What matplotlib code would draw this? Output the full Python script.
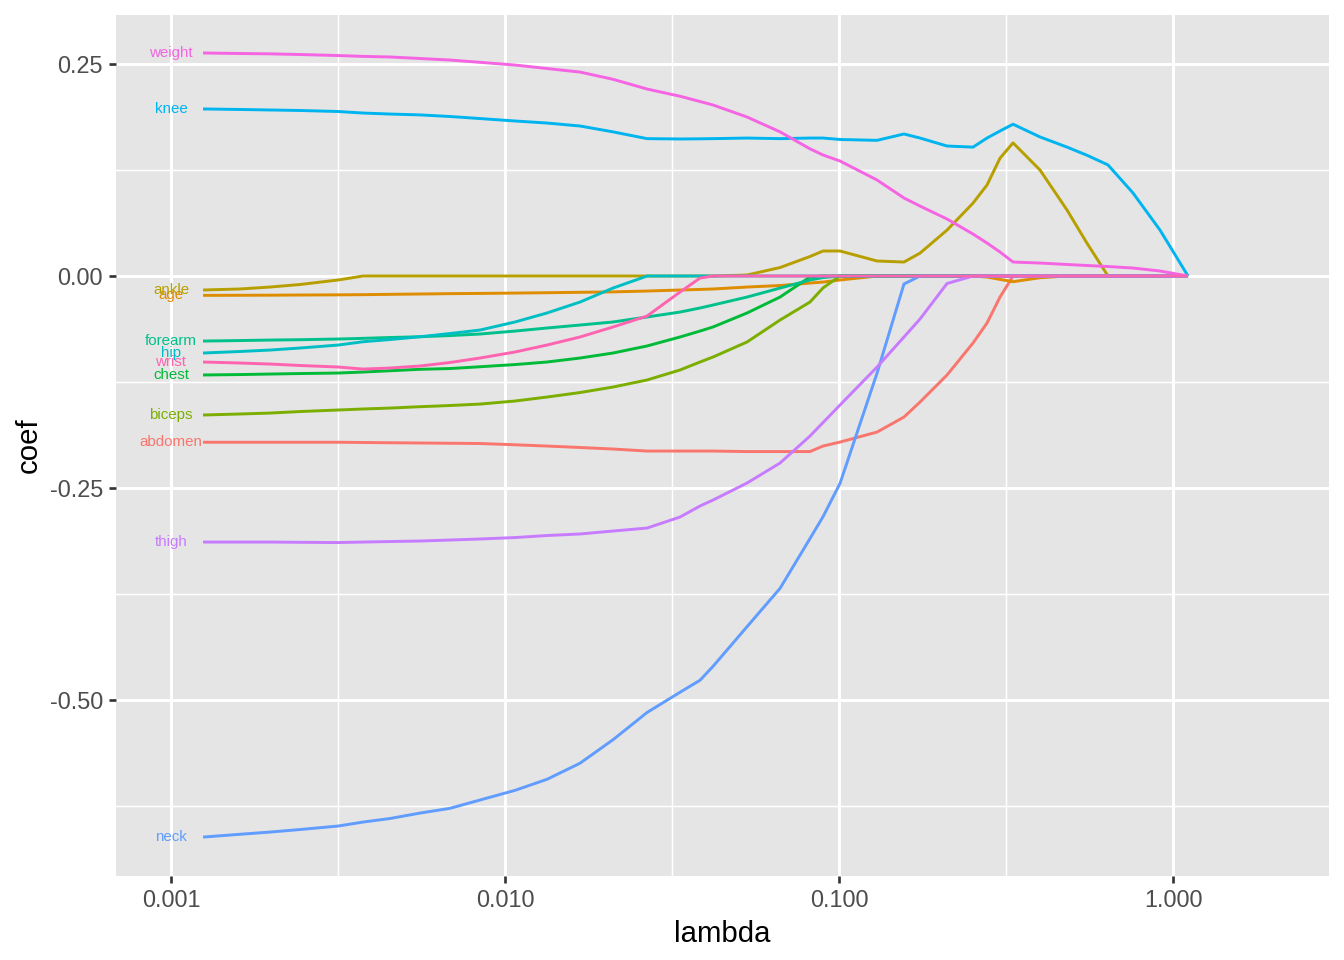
import numpy as np
import matplotlib
matplotlib.use('Agg')
import matplotlib.pyplot as plt
from matplotlib.ticker import FixedLocator, FormatStrFormatter

plt.rcParams['font.family'] = ['Liberation Sans', 'DejaVu Sans']
plt.rcParams['axes.unicode_minus'] = False

# lambda grid
lam = [0.001247, 0.001609, 0.001978, 0.002434, 0.003162, 0.003757, 0.004526,
       0.005566, 0.006843, 0.008416, 0.010713, 0.013354, 0.016770, 0.021054,
       0.026622, 0.033420, 0.038350, 0.041950, 0.053040, 0.066590, 0.081860,
       0.089570, 0.100700, 0.130000, 0.156500, 0.174800, 0.210600, 0.251900,
       0.277400, 0.303400, 0.331900, 0.399700, 0.481600, 0.552800, 0.638800,
       0.759000, 0.914200, 1.109000]

abdomen = [-0.196, -0.196, -0.196, -0.196, -0.196, -0.1963, -0.1966, -0.1969,
           -0.1972, -0.1975, -0.199, -0.2005, -0.2022, -0.204, -0.2064, -0.2064,
           -0.2064, -0.2064, -0.207, -0.207, -0.207, -0.2005, -0.1958, -0.184,
           -0.1663, -0.1486, -0.1167, -0.079, -0.0554, -0.0248] + [0] * 8
age = [-0.0228, -0.0227, -0.0226, -0.0224, -0.0222, -0.022, -0.0216, -0.0212,
       -0.0208, -0.0205, -0.0201, -0.0197, -0.0192, -0.0187, -0.0177, -0.0165,
       -0.0158, -0.0153, -0.013, -0.0112, -0.0083, -0.0071, -0.0047, 0, 0, 0,
       0, 0, -0.0012, -0.004, -0.0067, -0.002, 0, 0, 0, 0, 0, 0]
ankle = [-0.0165, -0.0153, -0.013, -0.010, -0.0047] + [0] * 13 + \
        [0.0012, 0.010, 0.023, 0.0295, 0.0295, 0.0177, 0.0165, 0.027, 0.0542,
         0.086, 0.1073, 0.139, 0.157, 0.125, 0.0778, 0.0386, 0, 0, 0, 0]
biceps = [-0.1639, -0.1627, -0.1616, -0.1598, -0.158, -0.1568, -0.1557,
          -0.1541, -0.1527, -0.151, -0.1474, -0.1427, -0.1374, -0.1309,
          -0.1226, -0.1108, -0.1014, -0.0955, -0.0778, -0.0519, -0.0307,
          -0.014, 0] + [0] * 15
chest = [-0.1167, -0.1162, -0.1156, -0.115, -0.1144, -0.1132, -0.1117, -0.110,
         -0.1091, -0.107, -0.1044, -0.1014, -0.0967, -0.0908, -0.0825, -0.0719,
         -0.0649, -0.0601, -0.0436, -0.0248, -0.0012, 0, 0] + [0] * 15
forearm = [-0.0767, -0.0761, -0.0755, -0.0751, -0.0743, -0.0735, -0.0725,
           -0.0716, -0.0702, -0.0684, -0.0649, -0.0613, -0.0578, -0.0542,
           -0.0483, -0.0425, -0.0377, -0.0342, -0.0248, -0.0142, -0.0047,
           -0.0018, 0] + [0] * 15
hip = [-0.0908, -0.089, -0.0873, -0.0849, -0.0814, -0.0775, -0.0749, -0.0716,
       -0.0678, -0.0637, -0.0542, -0.0436, -0.0307, -0.0142, 0] + [0] * 23
knee = [0.197, 0.1964, 0.1958, 0.1952, 0.194, 0.1922, 0.191, 0.190, 0.1881,
        0.1857, 0.1828, 0.1804, 0.1769, 0.170, 0.162, 0.1616, 0.1618, 0.162,
        0.1627, 0.162, 0.1627, 0.1627, 0.161, 0.160, 0.1675, 0.1627, 0.1533,
        0.152, 0.1627, 0.171, 0.179, 0.164, 0.152, 0.1424, 0.131, 0.0979,
        0.0542, 0.0]
neck = [-0.6616, -0.6583, -0.6557, -0.6527, -0.6486, -0.6439, -0.6397, -0.6333,
        -0.6277, -0.6179, -0.6065, -0.5935, -0.5745, -0.5468, -0.5147, -0.4908,
        -0.4767, -0.4603, -0.4135, -0.3683, -0.3096, -0.2838, -0.2445, -0.1144,
        -0.0094, 0] + [0] * 12
thigh = [-0.3137, -0.3137, -0.3137, -0.314, -0.3143, -0.3137, -0.3131, -0.3125,
         -0.3113, -0.3101, -0.3084, -0.306, -0.3042, -0.3007, -0.2972, -0.2842,
         -0.2712, -0.2642, -0.2441, -0.2205, -0.1887, -0.1728, -0.1521, -0.1073,
         -0.0719, -0.0507, -0.0088, 0] + [0] * 10
weight = [0.263, 0.2624, 0.262, 0.2612, 0.260, 0.259, 0.2583, 0.2565, 0.2547,
          0.252, 0.2488, 0.2447, 0.2405, 0.232, 0.2205, 0.212, 0.2058, 0.2017,
          0.1875, 0.170, 0.150, 0.1427, 0.1356, 0.1132, 0.092, 0.0825, 0.0672,
          0.0495, 0.0389, 0.0283, 0.0165, 0.0153, 0.0136, 0.0124, 0.0112,
          0.0094, 0.0059, 0.0]
wrist = [-0.1014, -0.1026, -0.1038, -0.1055, -0.1073, -0.1097, -0.1085,
         -0.1061, -0.102, -0.0967, -0.0896, -0.0814, -0.0719, -0.0601, -0.0472,
         -0.0189, -0.0024, 0] + [0] * 20

names = ['abdomen', 'age', 'ankle', 'biceps', 'chest', 'forearm', 'hip',
         'knee', 'neck', 'thigh', 'weight', 'wrist']
series = [abdomen, age, ankle, biceps, chest, forearm, hip, knee, neck,
          thigh, weight, wrist]
colours = ['#F8766D', '#DE8C00', '#B79F00', '#7CAE00', '#00BA38', '#00C08B',
           '#00BFC4', '#00B4F0', '#619CFF', '#C77CFF', '#F564E3', '#FF64B0']

label_x = 0.001

fig = plt.figure(figsize=(7, 5), dpi=192)
ax = fig.add_axes([116/1344, 1 - 876/960, (1329 - 116)/1344, (876 - 15)/960])
ax.set_facecolor('#E5E5E5')
for s in ax.spines.values():
    s.set_visible(False)

for nm, vals, col in zip(names, series, colours):
    ax.plot(lam, vals, color=col, lw=1.1, solid_capstyle='butt')
    ax.text(label_x, vals[0], nm, color=col, fontsize=5.7,
            ha='center', va='center')

ax.set_xscale('log')
ax.set_xlim(10**-3.1647, 10**0.467)
ax.set_ylim(-0.7075, 0.3078)

ax.xaxis.set_major_locator(FixedLocator([0.001, 0.01, 0.1, 1.0]))
ax.xaxis.set_minor_locator(FixedLocator([10**-2.5, 10**-1.5, 10**-0.5]))
ax.xaxis.set_major_formatter(FormatStrFormatter('%.3f'))
ax.xaxis.set_minor_formatter(FormatStrFormatter(''))
ax.yaxis.set_major_locator(FixedLocator([0.25, 0.0, -0.25, -0.5]))
ax.yaxis.set_minor_locator(FixedLocator([0.125, -0.125, -0.375, -0.625]))
ax.yaxis.set_major_formatter(FormatStrFormatter('%.2f'))

ax.set_axisbelow(True)
ax.grid(which='major', color='white', lw=1.1)
ax.grid(which='minor', color='white', lw=0.55)
ax.tick_params(which='major', length=2.75, width=1.0, color='#333333',
               labelsize=8.8, labelcolor='#4D4D4D', pad=2.2)
ax.tick_params(which='minor', length=0)

ax.set_xlabel('lambda', fontsize=11, labelpad=3)
ax.set_ylabel('coef', fontsize=11, labelpad=2.5)

fig.savefig('out.png', dpi=192)
